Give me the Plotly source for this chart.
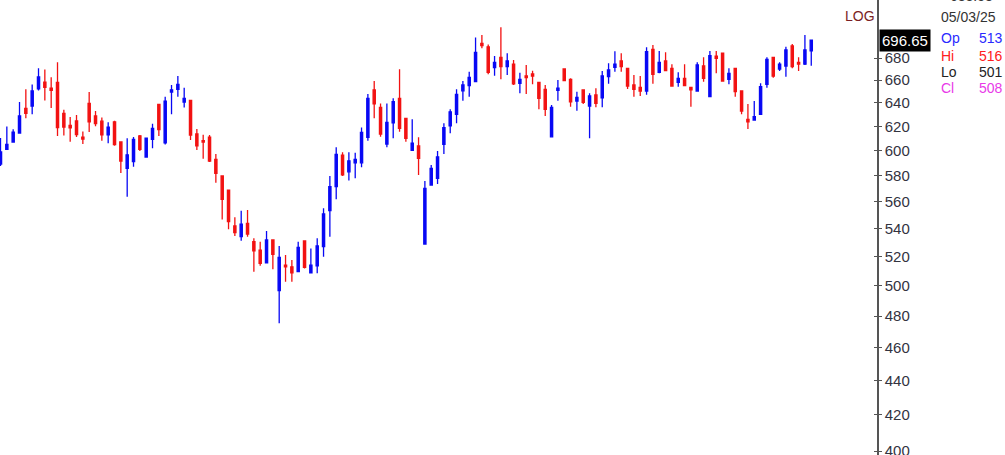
import math
import plotly.graph_objects as go

# ---------------- data ----------------
idx = list(range(129))

opens = [589.3, 601.2, 607.1, 614.5, 635.3, 637.3, 652.2, 658.3, 652.8, 658.0,
         631.1, 620.8, 624.6, 611.2, 639.6, 628.8, 624.4, 613.1, 623.9, 607.1,
         585.9, 591.2, 612.1, 594.9, 609.3, 638.8, 606.5, 649.5, 651.9, 640.8,
         642.2, 613.7, 608.3, 611.2, 593.1, 579.9, 569.0, 542.1, 534.3, 544.0,
         530.7, 524.7, 515.8, 531.9, 496.7, 514.2, 513.0, 509.6, 531.2, 508.9,
         513.7, 527.1, 553.4, 571.6, 596.5, 583.2, 590.3, 590.3, 611.0, 651.3,
         636.2, 605.5, 623.1, 644.0, 626.8, 600.4, 603.9, 529.0, 572.9, 578.1,
         605.2, 620.4, 630.2, 650.5, 655.1, 658.6, 693.6, 690.4, 671.2, 680.6,
         672.1, 674.5, 657.2, 663.7, 665.5, 658.0, 651.9, 611.4, 651.0, 670.0,
         660.7, 641.6, 651.3, 637.3, 646.9, 644.5, 663.1, 671.4, 677.3, 670.6,
         655.7, 653.6, 650.4, 688.0, 667.0, 677.3, 670.6, 658.1, 661.6, 653.6,
         650.4, 672.7, 645.4, 681.8, 684.4, 660.7, 670.6, 650.4, 626.0, 625.4,
         630.2, 656.3, 680.6, 670.0, 672.7, 691.1, 676.1, 674.5, 686.7]

highs = [610.4, 619.9, 617.6, 640.8, 651.9, 656.1, 670.6, 669.5, 662.5, 676.1,
         634.2, 627.9, 629.6, 615.8, 649.5, 633.0, 627.5, 623.6, 624.7, 607.5,
         610.2, 611.2, 612.9, 610.4, 622.3, 639.1, 645.4, 655.7, 663.7, 653.3,
         642.5, 617.8, 613.1, 612.9, 597.3, 580.5, 569.5, 548.4, 553.4, 553.9,
         533.1, 530.7, 538.4, 532.3, 527.6, 521.2, 517.7, 530.7, 531.5, 525.9,
         533.1, 555.1, 579.9, 602.8, 598.7, 598.7, 598.3, 619.2, 647.8, 659.2,
         639.6, 639.6, 644.0, 669.7, 627.0, 626.0, 611.0, 576.0, 588.5, 599.8,
         622.6, 634.5, 651.9, 659.2, 667.5, 699.2, 701.4, 692.6, 681.8, 708.8,
         684.4, 678.2, 666.7, 673.6, 668.4, 658.3, 655.7, 638.2, 660.1, 670.2,
         661.6, 649.8, 651.9, 648.4, 652.8, 668.2, 675.2, 686.2, 684.4, 670.9,
         664.6, 663.7, 689.9, 692.0, 686.5, 685.3, 674.2, 667.0, 674.2, 654.2,
         676.1, 680.6, 686.5, 686.5, 684.7, 670.6, 670.9, 650.7, 639.1, 641.6,
         657.2, 680.6, 680.9, 676.1, 690.5, 692.9, 680.6, 701.4, 697.0]

lows = [587.7, 600.6, 606.9, 614.0, 626.8, 630.2, 650.9, 642.1, 635.6, 612.1,
        612.5, 607.3, 611.2, 605.5, 615.3, 620.2, 608.1, 606.1, 604.0, 582.2,
        563.9, 587.2, 599.8, 594.7, 602.0, 612.1, 605.0, 630.3, 645.4, 636.0,
        608.7, 600.6, 593.5, 590.9, 574.7, 546.9, 539.6, 534.8, 531.4, 534.3,
        509.6, 513.7, 515.4, 511.3, 475.3, 502.8, 502.8, 509.2, 511.9, 508.5,
        508.5, 520.0, 534.3, 561.9, 579.9, 576.3, 578.1, 586.7, 608.1, 626.8,
        611.4, 602.8, 610.2, 615.6, 607.3, 600.2, 580.7, 528.5, 572.4, 573.7,
        597.3, 614.3, 622.6, 641.9, 645.4, 658.1, 689.0, 665.2, 664.0, 660.7,
        664.6, 655.7, 648.4, 647.8, 656.3, 634.5, 628.8, 611.2, 641.9, 659.2,
        636.7, 633.3, 639.1, 610.2, 636.2, 636.2, 656.8, 667.6, 667.6, 652.2,
        645.4, 646.0, 647.2, 656.8, 666.1, 668.2, 654.2, 654.2, 654.8, 636.7,
        649.8, 658.6, 645.0, 666.1, 658.6, 656.3, 645.4, 630.2, 617.8, 625.1,
        630.0, 653.3, 662.2, 668.2, 663.1, 670.6, 668.2, 673.6, 672.9]

closes = [599.0, 605.1, 615.3, 628.8, 631.1, 650.4, 662.8, 653.6, 651.0, 619.1,
          619.5, 618.9, 613.3, 609.6, 623.9, 622.3, 613.1, 619.5, 605.0, 591.7,
          596.7, 609.3, 601.2, 610.2, 618.4, 617.4, 641.6, 651.4, 656.3, 644.0,
          612.9, 603.9, 607.1, 591.7, 582.0, 561.9, 545.2, 537.2, 543.3, 536.2,
          524.2, 515.4, 531.9, 521.7, 519.6, 513.0, 508.9, 526.6, 512.6, 514.2,
          527.6, 550.9, 571.6, 597.1, 580.7, 591.9, 593.1, 615.1, 644.0, 639.1,
          613.7, 623.4, 641.0, 618.4, 610.2, 606.1, 593.8, 570.3, 585.9, 595.1,
          618.9, 632.4, 647.5, 655.7, 662.5, 685.2, 691.4, 667.0, 676.1, 672.1,
          677.3, 656.8, 660.7, 662.2, 663.7, 644.0, 634.5, 636.2, 652.8, 659.5,
          641.0, 644.9, 640.5, 646.0, 639.6, 663.7, 669.1, 674.5, 672.1, 654.8,
          651.9, 650.4, 685.8, 665.2, 676.1, 668.5, 654.8, 661.6, 655.1, 651.3,
          673.6, 661.6, 682.1, 679.7, 659.2, 666.1, 649.8, 633.0, 623.9, 628.2,
          654.2, 678.8, 663.7, 674.5, 687.4, 672.1, 674.5, 687.4, 696.65]

tick_vals = [400, 420, 440, 460, 480, 500, 520, 540, 560, 580, 600, 620, 640, 660, 680]
tick_text = [str(v) for v in tick_vals]

last_price = 696.65
scale_label = "LOG"
info_top = "683.58"
info_date = "05/03/25"
info_labels = ["Op", "Hi", "Lo", "Cl"]
info_values = ["513", "516", "501", "508"]
info_colors = ["#2a2aff", "#ff2020", "#222222", "#e83ae8"]

# ---------------- figure ----------------
W, H = 1005, 455
PLOT_W = 877
UP = "#0808f4"
DOWN = "#f21212"
FONT = "Liberation Sans"

y_range = [math.log10(397.9), math.log10(735.4)]

fig = go.Figure()
fig.add_trace(go.Candlestick(
    x=idx, open=opens, high=highs, low=lows, close=closes,
    increasing=dict(line=dict(color=UP, width=1.3), fillcolor=UP),
    decreasing=dict(line=dict(color=DOWN, width=1.3), fillcolor=DOWN),
    whiskerwidth=0, showlegend=False, hoverinfo="skip",
))
# helper trace so the inner tick axis is drawn
fig.add_trace(go.Scatter(x=[idx[0]], y=[closes[0]], yaxis="y2", mode="markers",
                         marker=dict(opacity=0), hoverinfo="skip", showlegend=False))

def px_x(p):
    return p / PLOT_W

def px_y(p):
    return 1 - p / H

ann = []
ann.append(dict(text=scale_label, x=px_x(860), y=px_y(16.5), xref="paper", yref="paper",
                xanchor="center", yanchor="middle", showarrow=False,
                font=dict(family=FONT, size=14, color="#7a1e24")))
ann.append(dict(text=info_top, x=px_x(948), y=px_y(6), xref="paper", yref="paper",
                xanchor="left", yanchor="bottom", showarrow=False,
                font=dict(family=FONT, size=14, color="#333333")))
ann.append(dict(text=info_date, x=px_x(939), y=px_y(17), xref="paper", yref="paper",
                xanchor="left", yanchor="middle", showarrow=False,
                font=dict(family=FONT, size=14, color="#333333")))
rows_y = [37.5, 55.5, 71.5, 88]
for lab, val, col, yy in zip(info_labels, info_values, info_colors, rows_y):
    ann.append(dict(text=lab, x=px_x(939), y=px_y(yy), xref="paper", yref="paper",
                    xanchor="left", yanchor="middle", showarrow=False,
                    font=dict(family=FONT, size=14, color=col)))
    ann.append(dict(text=val, x=px_x(977), y=px_y(yy), xref="paper", yref="paper",
                    xanchor="left", yanchor="middle", showarrow=False,
                    font=dict(family=FONT, size=14, color=col)))
ann.append(dict(text=f"{last_price:.2f}", x=1, xshift=2, y=math.log10(last_price),
                xref="paper", yref="y", xanchor="left", yanchor="middle",
                showarrow=False, bgcolor="#000000", borderpad=2,
                font=dict(family=FONT, size=15, color="#ffffff")))

fig.update_layout(
    width=W, height=H,
    margin=dict(l=0, r=W - PLOT_W, t=0, b=0, autoexpand=False),
    paper_bgcolor="white", plot_bgcolor="white",
    showlegend=False,
    boxgap=0.5,
    xaxis=dict(range=[-0.08, -0.08 + PLOT_W / 6.334], visible=False, automargin=False,
               rangeslider=dict(visible=False), fixedrange=True),
    yaxis=dict(type="log", side="right", range=y_range, automargin=False,
               tickvals=tick_vals, ticktext=tick_text,
               ticks="outside", ticklen=3, tickcolor="#555555", tickwidth=1.2,
               showline=True, linecolor="#555555", linewidth=1.5,
               showgrid=False, zeroline=False, fixedrange=True,
               ticklabeloverflow="allow",
               tickfont=dict(family=FONT, size=15, color="#33333f")),
    yaxis2=dict(type="log", side="right", overlaying="y", range=y_range, automargin=False,
                tickvals=tick_vals, ticks="inside", ticklen=3,
                tickcolor="#555555", tickwidth=1.2,
                showticklabels=False, showline=False, showgrid=False,
                zeroline=False, fixedrange=True),
    annotations=ann,
)

fig.write_html("out.html", config={"displayModeBar": False},
               post_script="document.body.style.margin='0px';document.body.style.overflow='hidden';")
